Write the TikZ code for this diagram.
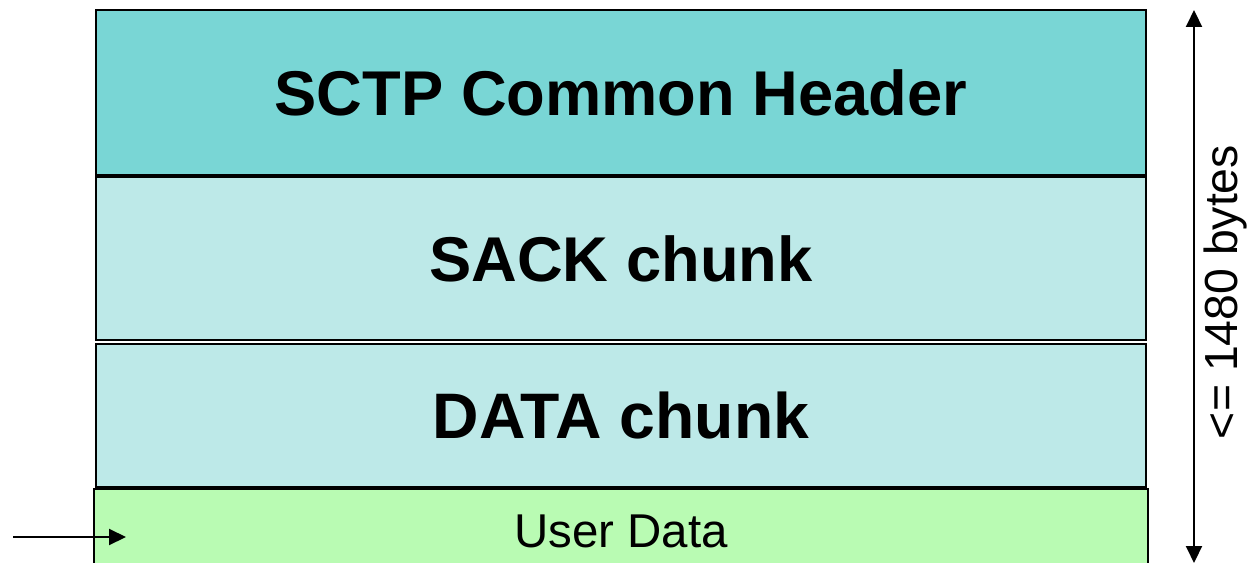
\documentclass[tikz,border=0pt]{standalone}
\usepackage{fontspec}
\setmainfont{Liberation Sans}
\usepackage{xcolor}
\usepackage{tikz}
\usetikzlibrary{positioning, arrows.meta}

\definecolor{hdrcol}{HTML}{79D6D5}
\definecolor{chunkcol}{HTML}{BDE9E8}
\definecolor{usercol}{HTML}{B9FBB3}

\tikzset{
  layer/.style={draw, line width=0.6pt, minimum width=10.5cm, inner sep=0pt, outer sep=0pt},
  bigtext/.style={font=\fontsize{18}{20}\selectfont\bfseries},
  bigtip/.tip={Triangle[length=0.17cm, width=0.16cm]}
}

\begin{document}
\begin{tikzpicture}
\useasboundingbox (0,0) rectangle (12.47,-5.63);
\clip (0,0) rectangle (12.47,-5.63);
\node[layer, fill=hdrcol, minimum height=1.65cm, bigtext] (header) at (6.21,-0.925) {SCTP Common Header};
\node[layer, fill=chunkcol, minimum height=1.63cm, bigtext, below = 0.02cm of header] (sack) {SACK chunk};
\node[layer, fill=chunkcol, minimum height=1.43cm, bigtext, below = 0.04cm of sack,
  font=\fontsize{18.3}{20}\selectfont\bfseries] (data) {DATA chunk};
\node[layer, fill=usercol, minimum width=10.54cm, minimum height=0.85cm, below = 0.02cm of data,
  font=\fontsize{13.5}{15}\selectfont] (user) {User Data};
% incoming arrow
\coordinate (inA) at (0.13,-5.37);
\coordinate (inB) at (1.26,-5.37);
\draw[line width=0.6pt, -{bigtip}] (inA) -- (inB);
% size arrow
\coordinate (topS) at (11.94,-0.10);
\coordinate (botS) at (11.94,-5.63);
\draw[line width=0.6pt, {bigtip}-{bigtip}] (topS) -- (botS);
\node[rotate=90, font=\fontsize{13.2}{15}\selectfont] (sizelbl) at (12.25,-2.92) {<= 1480 bytes};
\end{tikzpicture}
\end{document}
